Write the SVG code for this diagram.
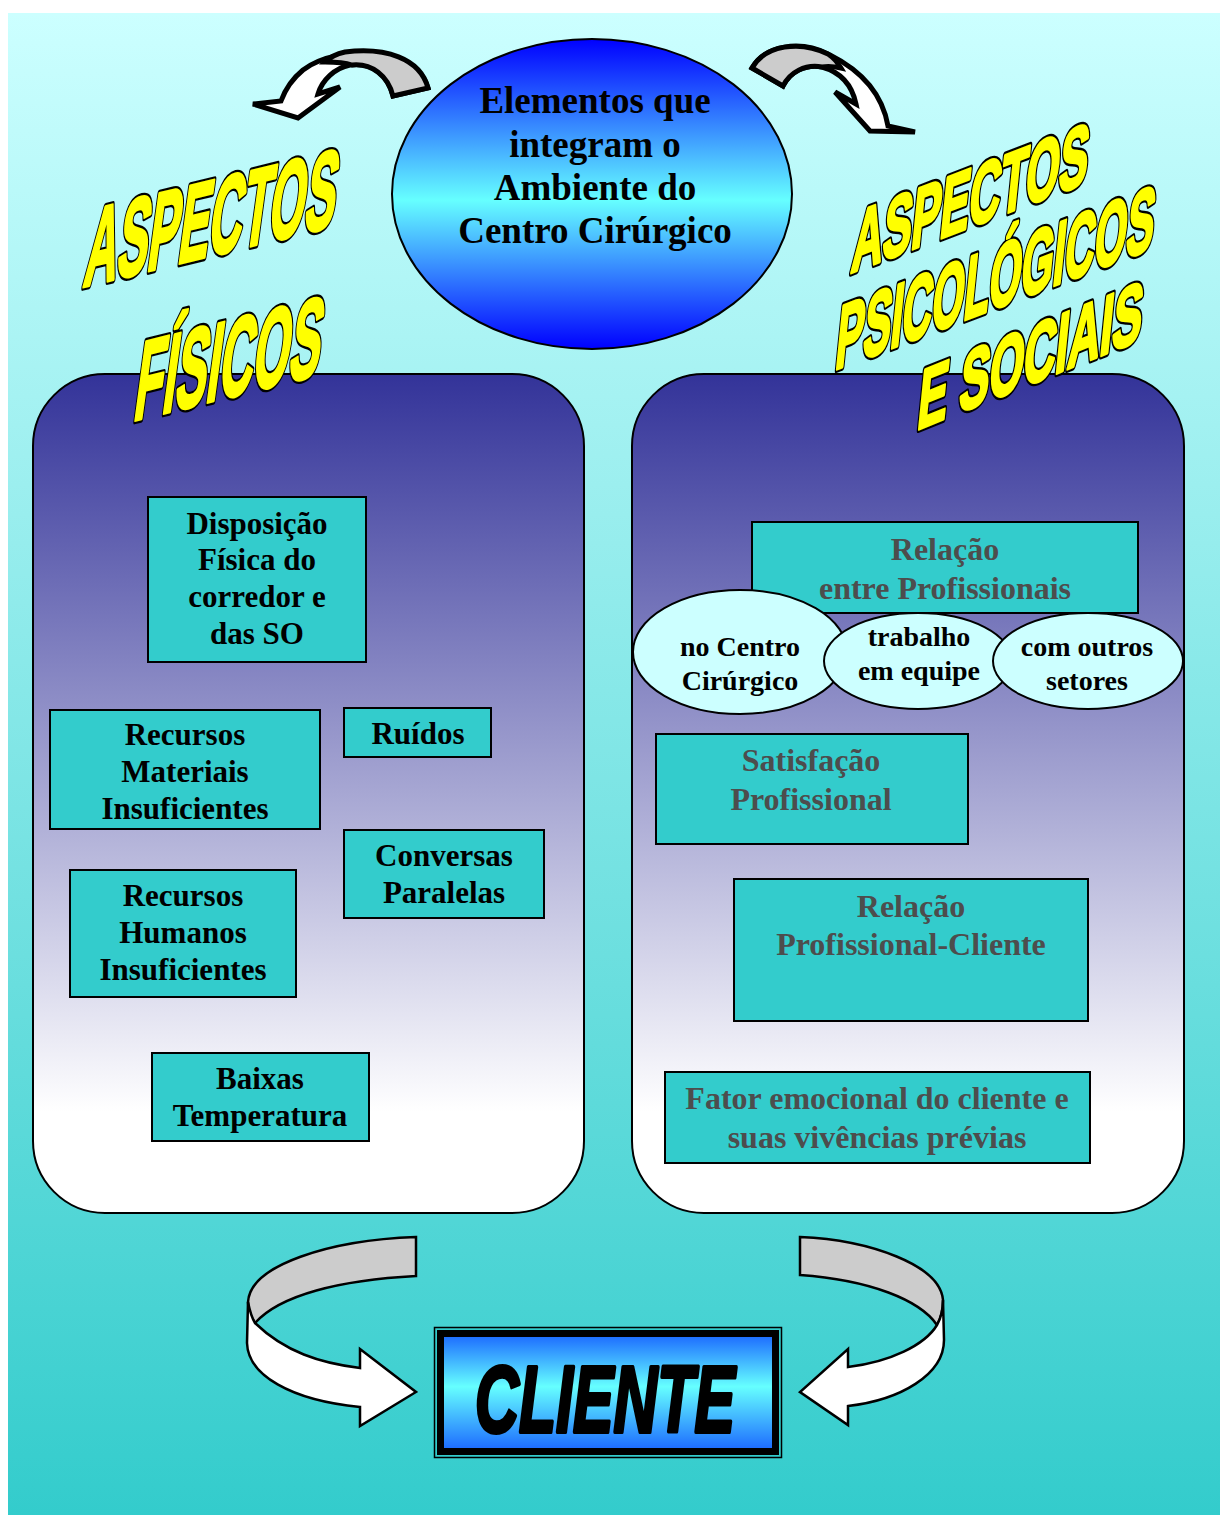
<svg xmlns="http://www.w3.org/2000/svg" width="1220" height="1515" viewBox="0 0 1220 1515">
  <defs>
    <linearGradient id="bg" x1="0" y1="0" x2="0" y2="1">
      <stop offset="0" stop-color="#ccffff"/>
      <stop offset="1" stop-color="#33cccc"/>
    </linearGradient>
    <linearGradient id="panel" x1="0" y1="0" x2="0" y2="1">
      <stop offset="0" stop-color="#333399"/>
      <stop offset="0.88" stop-color="#ffffff"/>
      <stop offset="1" stop-color="#ffffff"/>
    </linearGradient>
    <linearGradient id="orb" x1="0" y1="0" x2="0" y2="1">
      <stop offset="0" stop-color="#0000ff"/>
      <stop offset="0.52" stop-color="#66ffff"/>
      <stop offset="1" stop-color="#0000ff"/>
    </linearGradient>
    <linearGradient id="plate" x1="0" y1="0" x2="0" y2="1">
      <stop offset="0" stop-color="#1a66ff"/>
      <stop offset="0.45" stop-color="#66ffff"/>
      <stop offset="1" stop-color="#1a66ff"/>
    </linearGradient>
    <style>
      .panel { fill: url(#panel); stroke: #000; stroke-width: 2; }
      .box { fill: #33cccc; stroke: #000; stroke-width: 2; }
      .bubble { fill: #ccffff; stroke: #000; stroke-width: 2; }
      .lbl { font-family: "Liberation Serif", "Times New Roman", serif; font-weight: bold; text-anchor: middle; fill: #000; }
      .l31 { font-size: 31px; }
      .r32 { font-size: 32px; fill: #4d4d4d; }
      .e28 { font-size: 28px; }
      .c36 { font-size: 37px; }
      .art { font-family: "Liberation Sans", Arial, sans-serif; font-weight: bold; }
      .art-edge { fill: #000; stroke: #000; stroke-width: 8; stroke-linejoin: round; }
      .art-face { fill: #ffff00; stroke: #ffff00; stroke-width: 3.5; stroke-linejoin: round; }
      .band-front { fill: #ffffff; stroke: #000; stroke-linejoin: miter; }
      .band-back { fill: #cccccc; stroke: #000; stroke-linejoin: miter; }
    </style>
  </defs>

  <!-- page background -->
  <rect x="8" y="13" width="1212" height="1502" fill="url(#bg)"/>

  <!-- two category panels -->
  <rect id="panel-fisicos" class="panel" x="33" y="374" width="551" height="839" rx="72" ry="72"/>
  <rect id="panel-psico" class="panel" x="632" y="374" width="552" height="839" rx="72" ry="72"/>

  <!-- curved arrows -->
  <g id="connectors">
    <!-- top left -->
    <path class="band-front" stroke-width="5" d="M 428,88 C 418,50 340,42 303,70 C 292,79 285,90 281,101 L 253,104 L 298,118 L 340,87 L 318,94 C 322,80 335,68 350,65 C 372,62 388,75 393,96 Z"/>
    <path class="band-back" stroke-width="5" d="M 428,88 C 420,58 385,47 345,52 C 336,54 330,57 325,62 C 338,62 346,63 352,65 C 372,63 388,76 393,96 Z"/>
    <!-- top right -->
    <path class="band-front" stroke-width="5" d="M 752,68 C 765,45 800,40 830,55 C 860,70 882,92 888,126 L 915,132 L 870,131 L 835,92 L 856,104 C 852,85 840,72 822,67 C 805,64 790,72 783,86 Z"/>
    <path class="band-back" stroke-width="5" d="M 752,68 C 765,45 800,40 828,54 C 834,58 838,63 841,68 C 832,66 828,66 822,67 C 805,64 790,72 783,86 Z"/>
    <!-- bottom left -->
    <path class="band-back" stroke-width="2.5" d="M 416,1237 L 416,1276 C 340,1280 280,1295 255,1323 C 250,1316 248,1308 248,1302 C 250,1265 330,1240 416,1237 Z"/>
    <path class="band-front" stroke-width="2.5" d="M 248,1302 C 250,1312 252,1318 255,1323 C 285,1352 320,1363 360,1368 L 360,1349 L 416,1392 L 360,1426 L 360,1407 C 290,1400 248,1375 247,1343 Z"/>
    <!-- bottom right -->
    <path class="band-back" stroke-width="2.5" d="M 800,1237 L 800,1275 C 870,1280 920,1300 937,1325 C 941,1318 943,1310 943,1300 C 940,1265 870,1240 800,1237 Z"/>
    <path class="band-front" stroke-width="2.5" d="M 943,1300 L 944,1340 C 944,1375 900,1400 848,1406 L 848,1425 L 800,1392 L 848,1349 L 848,1367 C 890,1362 925,1345 937,1325 C 941,1318 943,1310 943,1300 Z"/>
  </g>

  <!-- central theme -->
  <g id="tema">
    <ellipse cx="592" cy="194" rx="200" ry="155" fill="url(#orb)" stroke="#000" stroke-width="2"/>
    <text class="lbl c36" x="595" y="113">Elementos que</text>
    <text class="lbl c36" x="595" y="157">integram o</text>
    <text class="lbl c36" x="595" y="200">Ambiente do</text>
    <text class="lbl c36" x="595" y="243">Centro Cirúrgico</text>
  </g>

  <!-- slanted headings: dark edge layer under a yellow face layer -->
  <g id="titulo-fisicos" class="art">
    <g transform="translate(82,287) skewY(-13.7) skewX(-8)">
      <text class="art-edge" x="0" y="0" font-size="108" textLength="251" lengthAdjust="spacingAndGlyphs">ASPECTOS</text>
      <text class="art-face" x="0" y="0" font-size="108" textLength="251" lengthAdjust="spacingAndGlyphs">ASPECTOS</text>
    </g>
    <g transform="translate(132,421) skewY(-14) skewX(-8)">
      <text class="art-edge" x="0" y="0" font-size="110" textLength="186" lengthAdjust="spacingAndGlyphs">FÍSICOS</text>
      <text class="art-face" x="0" y="0" font-size="110" textLength="186" lengthAdjust="spacingAndGlyphs">FÍSICOS</text>
    </g>
  </g>
  <g id="titulo-psico" class="art">
    <g transform="translate(850,273) skewY(-21) skewX(-6)">
      <text class="art-edge" x="0" y="0" font-size="84" textLength="236" lengthAdjust="spacingAndGlyphs">ASPECTOS</text>
      <text class="art-face" x="0" y="0" font-size="84" textLength="236" lengthAdjust="spacingAndGlyphs">ASPECTOS</text>
    </g>
    <g transform="translate(834,370) skewY(-21) skewX(-6)">
      <text class="art-edge" x="0" y="0" font-size="88" textLength="318" lengthAdjust="spacingAndGlyphs">PSICOLÓGICOS</text>
      <text class="art-face" x="0" y="0" font-size="88" textLength="318" lengthAdjust="spacingAndGlyphs">PSICOLÓGICOS</text>
    </g>
    <g transform="translate(916,430) skewY(-22) skewX(-6)">
      <text class="art-edge" x="0" y="0" font-size="82" textLength="224" lengthAdjust="spacingAndGlyphs">E SOCIAIS</text>
      <text class="art-face" x="0" y="0" font-size="82" textLength="224" lengthAdjust="spacingAndGlyphs">E SOCIAIS</text>
    </g>
  </g>

  <!-- physical aspects -->
  <g id="disposicao">
    <rect class="box" x="148" y="497" width="218" height="165"/>
    <text class="lbl l31" x="257" y="534">Disposição</text>
    <text class="lbl l31" x="257" y="570">Física do</text>
    <text class="lbl l31" x="257" y="607">corredor e</text>
    <text class="lbl l31" x="257" y="644">das SO</text>
  </g>
  <g id="materiais">
    <rect class="box" x="50" y="710" width="270" height="119"/>
    <text class="lbl l31" x="185" y="745">Recursos</text>
    <text class="lbl l31" x="185" y="782">Materiais</text>
    <text class="lbl l31" x="185" y="819">Insuficientes</text>
  </g>
  <g id="ruidos">
    <rect class="box" x="344" y="708" width="147" height="49"/>
    <text class="lbl l31" x="418" y="744">Ruídos</text>
  </g>
  <g id="conversas">
    <rect class="box" x="344" y="830" width="200" height="88"/>
    <text class="lbl l31" x="444" y="866">Conversas</text>
    <text class="lbl l31" x="444" y="903">Paralelas</text>
  </g>
  <g id="humanos">
    <rect class="box" x="70" y="870" width="226" height="127"/>
    <text class="lbl l31" x="183" y="906">Recursos</text>
    <text class="lbl l31" x="183" y="943">Humanos</text>
    <text class="lbl l31" x="183" y="980">Insuficientes</text>
  </g>
  <g id="temperatura">
    <rect class="box" x="152" y="1053" width="217" height="88"/>
    <text class="lbl l31" x="260" y="1089">Baixas</text>
    <text class="lbl l31" x="260" y="1126">Temperatura</text>
  </g>

  <!-- psychological and social aspects -->
  <g id="relacao-profissionais">
    <rect class="box" x="752" y="522" width="386" height="91"/>
    <text class="lbl r32" x="945" y="560">Relação</text>
    <text class="lbl r32" x="945" y="599">entre Profissionais</text>
  </g>
  <g id="no-centro">
    <ellipse class="bubble" cx="740" cy="652" rx="107" ry="62"/>
    <text class="lbl e28" x="740" y="656">no Centro</text>
    <text class="lbl e28" x="740" y="690">Cirúrgico</text>
  </g>
  <g id="equipe">
    <ellipse class="bubble" cx="918" cy="661" rx="94" ry="48"/>
    <text class="lbl e28" x="919" y="646">trabalho</text>
    <text class="lbl e28" x="919" y="680">em equipe</text>
  </g>
  <g id="outros-setores">
    <ellipse class="bubble" cx="1088" cy="661" rx="95" ry="48"/>
    <text class="lbl e28" x="1087" y="656">com outros</text>
    <text class="lbl e28" x="1087" y="690">setores</text>
  </g>
  <g id="satisfacao">
    <rect class="box" x="656" y="734" width="312" height="110"/>
    <text class="lbl r32" x="811" y="771">Satisfação</text>
    <text class="lbl r32" x="811" y="810">Profissional</text>
  </g>
  <g id="relacao-cliente">
    <rect class="box" x="734" y="879" width="354" height="142"/>
    <text class="lbl r32" x="911" y="917">Relação</text>
    <text class="lbl r32" x="911" y="955">Profissional-Cliente</text>
  </g>
  <g id="fator-emocional">
    <rect class="box" x="665" y="1072" width="425" height="91"/>
    <text class="lbl r32" x="877" y="1109">Fator emocional do cliente e</text>
    <text class="lbl r32" x="877" y="1148">suas vivências prévias</text>
  </g>

  <!-- client plate -->
  <g id="cliente">
    <rect x="434.5" y="1327.5" width="347" height="130" fill="#33cccc" stroke="#000" stroke-width="1.5"/>
    <rect x="440.5" y="1333.5" width="335" height="118" fill="url(#plate)" stroke="#000" stroke-width="7"/>
    <text x="475" y="1432" font-family="Liberation Sans, Arial, sans-serif" font-weight="bold" font-style="italic" font-size="95" textLength="260" lengthAdjust="spacingAndGlyphs" fill="#000" stroke="#000" stroke-width="4" stroke-linejoin="round">CLIENTE</text>
  </g>
</svg>
